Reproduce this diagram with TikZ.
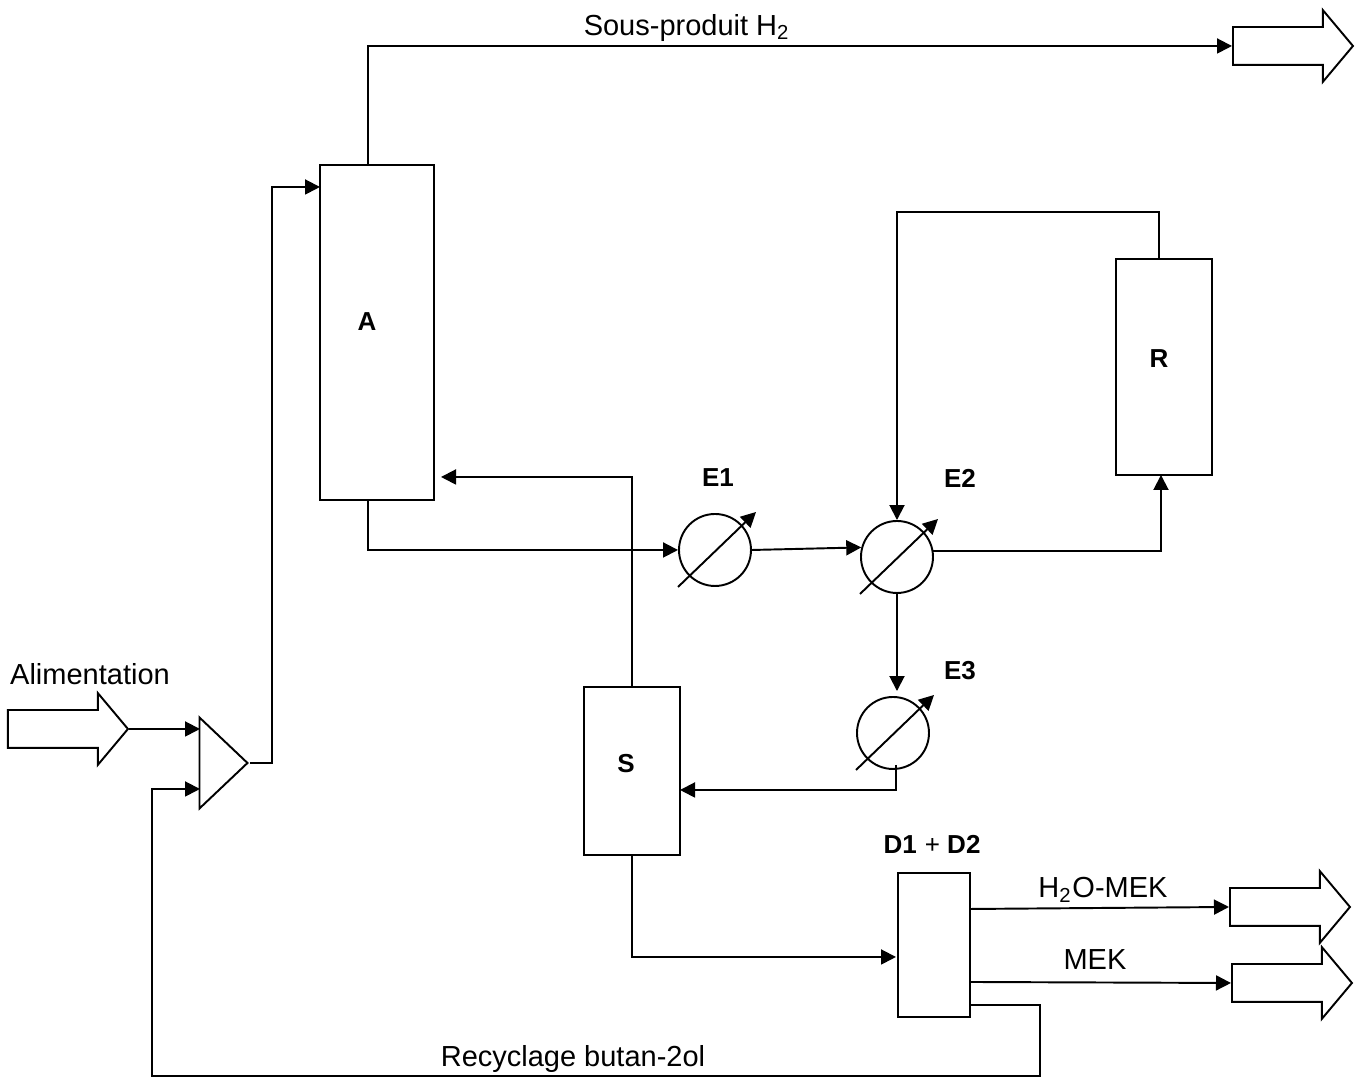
\documentclass[tikz,border=0pt]{standalone}
\usepackage{fontspec}
\setmainfont{Liberation Sans}
\usepackage{tikz}
\usetikzlibrary{arrows.meta,calc,shapes.arrows,shapes.geometric}

\tikzset{
  unit/.style={draw,rectangle,inner sep=0pt},
  exch/.style={draw,circle,inner sep=0pt,minimum size=7.2mm},
  stream/.style={draw,single arrow,anchor=tail,inner xsep=0pt,inner ysep=1.8mm,minimum height=12mm,
    minimum width=7mm,single arrow head extend=1.7mm,single arrow tip angle=100},
  flow/.style={-{Triangle[length=1.5mm,width=1.5mm]}},
  lab/.style={font=\fontsize{8.25}{10}\selectfont},
  tag/.style={font=\fontsize{7.4}{9}\selectfont\bfseries},
}

\begin{document}
\begin{tikzpicture}[x=0.1mm,y=-0.1mm,line width=0.55pt]
\useasboundingbox (0,0) rectangle (1357,1077);

% Units
\node[unit,minimum width=11.4mm,minimum height=33.5mm] (A) at (377,332.5) {};
\node[unit,minimum width=9.6mm,minimum height=21.6mm] (R) at (1164,367) {};
\node[unit,minimum width=9.6mm,minimum height=16.8mm] (S) at (632,771) {};
\node[unit,minimum width=7.2mm,minimum height=14.4mm] (D) at (934,945) {};
\node[draw,isosceles triangle,isosceles triangle stretches,inner sep=0pt,anchor=apex,
  minimum width=9.1mm,minimum height=4.8mm] (Mix) at (250,763) {};

% Exchangers
\node[exch] (E1) at (715,550) {};
\node[exch] (E2) at (897,557) {};
\node[exch] (E3) at (893,733) {};
\foreach \n in {E1,E2,E3}
  \draw[flow] ($(\n.center)+(-37,37)$) -- ++(78,-75);

% Inlet and outlets
\node[stream] (Alim) at (7,729) {};
\node[stream] (Hout) at (1232,46) {};
\node[stream] (Hmek) at (1229,907) {};
\node[stream] (Mek) at (1231,983) {};

% Ends on the sides of the units
\coordinate (Atop) at (368,165);
\coordinate (Ain) at (320,187);
\coordinate (Abot) at (368,500);
\coordinate (Aret) at (441,477);
\coordinate (Stop) at (632,687);
\coordinate (Sin) at (680,790);
\coordinate (Sbot) at (632,855);
\coordinate (Dtop) at (970,909);
\coordinate (Dmid) at (970,982);
\coordinate (Dbot) at (970,1005);
\coordinate (Din) at (896,957);
\coordinate (Rtop) at (1159,259);
\coordinate (Rin) at (1161,475);
\coordinate (E3out) at (896,765);
\coordinate (Mixa) at (200,729);
\coordinate (Mixb) at (200,789);

% Streams
\draw[flow] (Alim.tip) -- (Mixa);
\draw[flow] (Mix.apex) -- ++(22,0) |- (Ain);
\draw[flow] (Atop) |- (Hout.tail);
\draw[flow] (Abot) |- (E1.west);
\draw[flow] (E1.east) -- (E2.165);
\draw[flow] (E2.10) -| (Rin);
\draw[flow] (Rtop) -- ++(0,-47) -| (E2.north);
\draw[flow,shorten >=0.5mm] (E2.south) -- (E2.south |- E3.north);
\draw[flow] (E3out) |- (Sin);
\draw[flow] (Stop) |- (Aret);
\draw[flow] (Sbot) |- (Din);
\draw[flow] (Dtop) -- (Hmek.tail);
\draw[flow] (Dmid) -- (Mek.tail);
\draw[flow] (Dbot) -- ++(70,0) -- ++(0,71) -| (152,850) |- (Mixb);

% Labels
\node[tag] (lA) at (367,322) {A};
\node[tag] (lR) at (1159,359) {R};
\node[tag] (lS) at (626,764) {S};
\node[tag] (lE1) at (718,478) {E1};
\node[tag] (lE2) at (960,478) {E2};
\node[tag] (lE3) at (960,671) {E3};
\node[lab] (lD) at (932,844) {{\fontsize{7.4}{9}\selectfont\bfseries D1} {\fontsize{7.4}{9}\selectfont + \bfseries D2}};
\node[lab] (lAlim) at (90,674) {Alimentation};
\node[lab] (lHout) at (687,28) {Sous-produit H\textsubscript{2}};
\node[lab] (lHmek) at (1103,890) {H\textsubscript{2}O-MEK};
\node[lab] (lMek) at (1095,960) {MEK};
\node[lab] (lRec) at (573,1059) {Recyclage butan-2ol};
\end{tikzpicture}
\end{document}
